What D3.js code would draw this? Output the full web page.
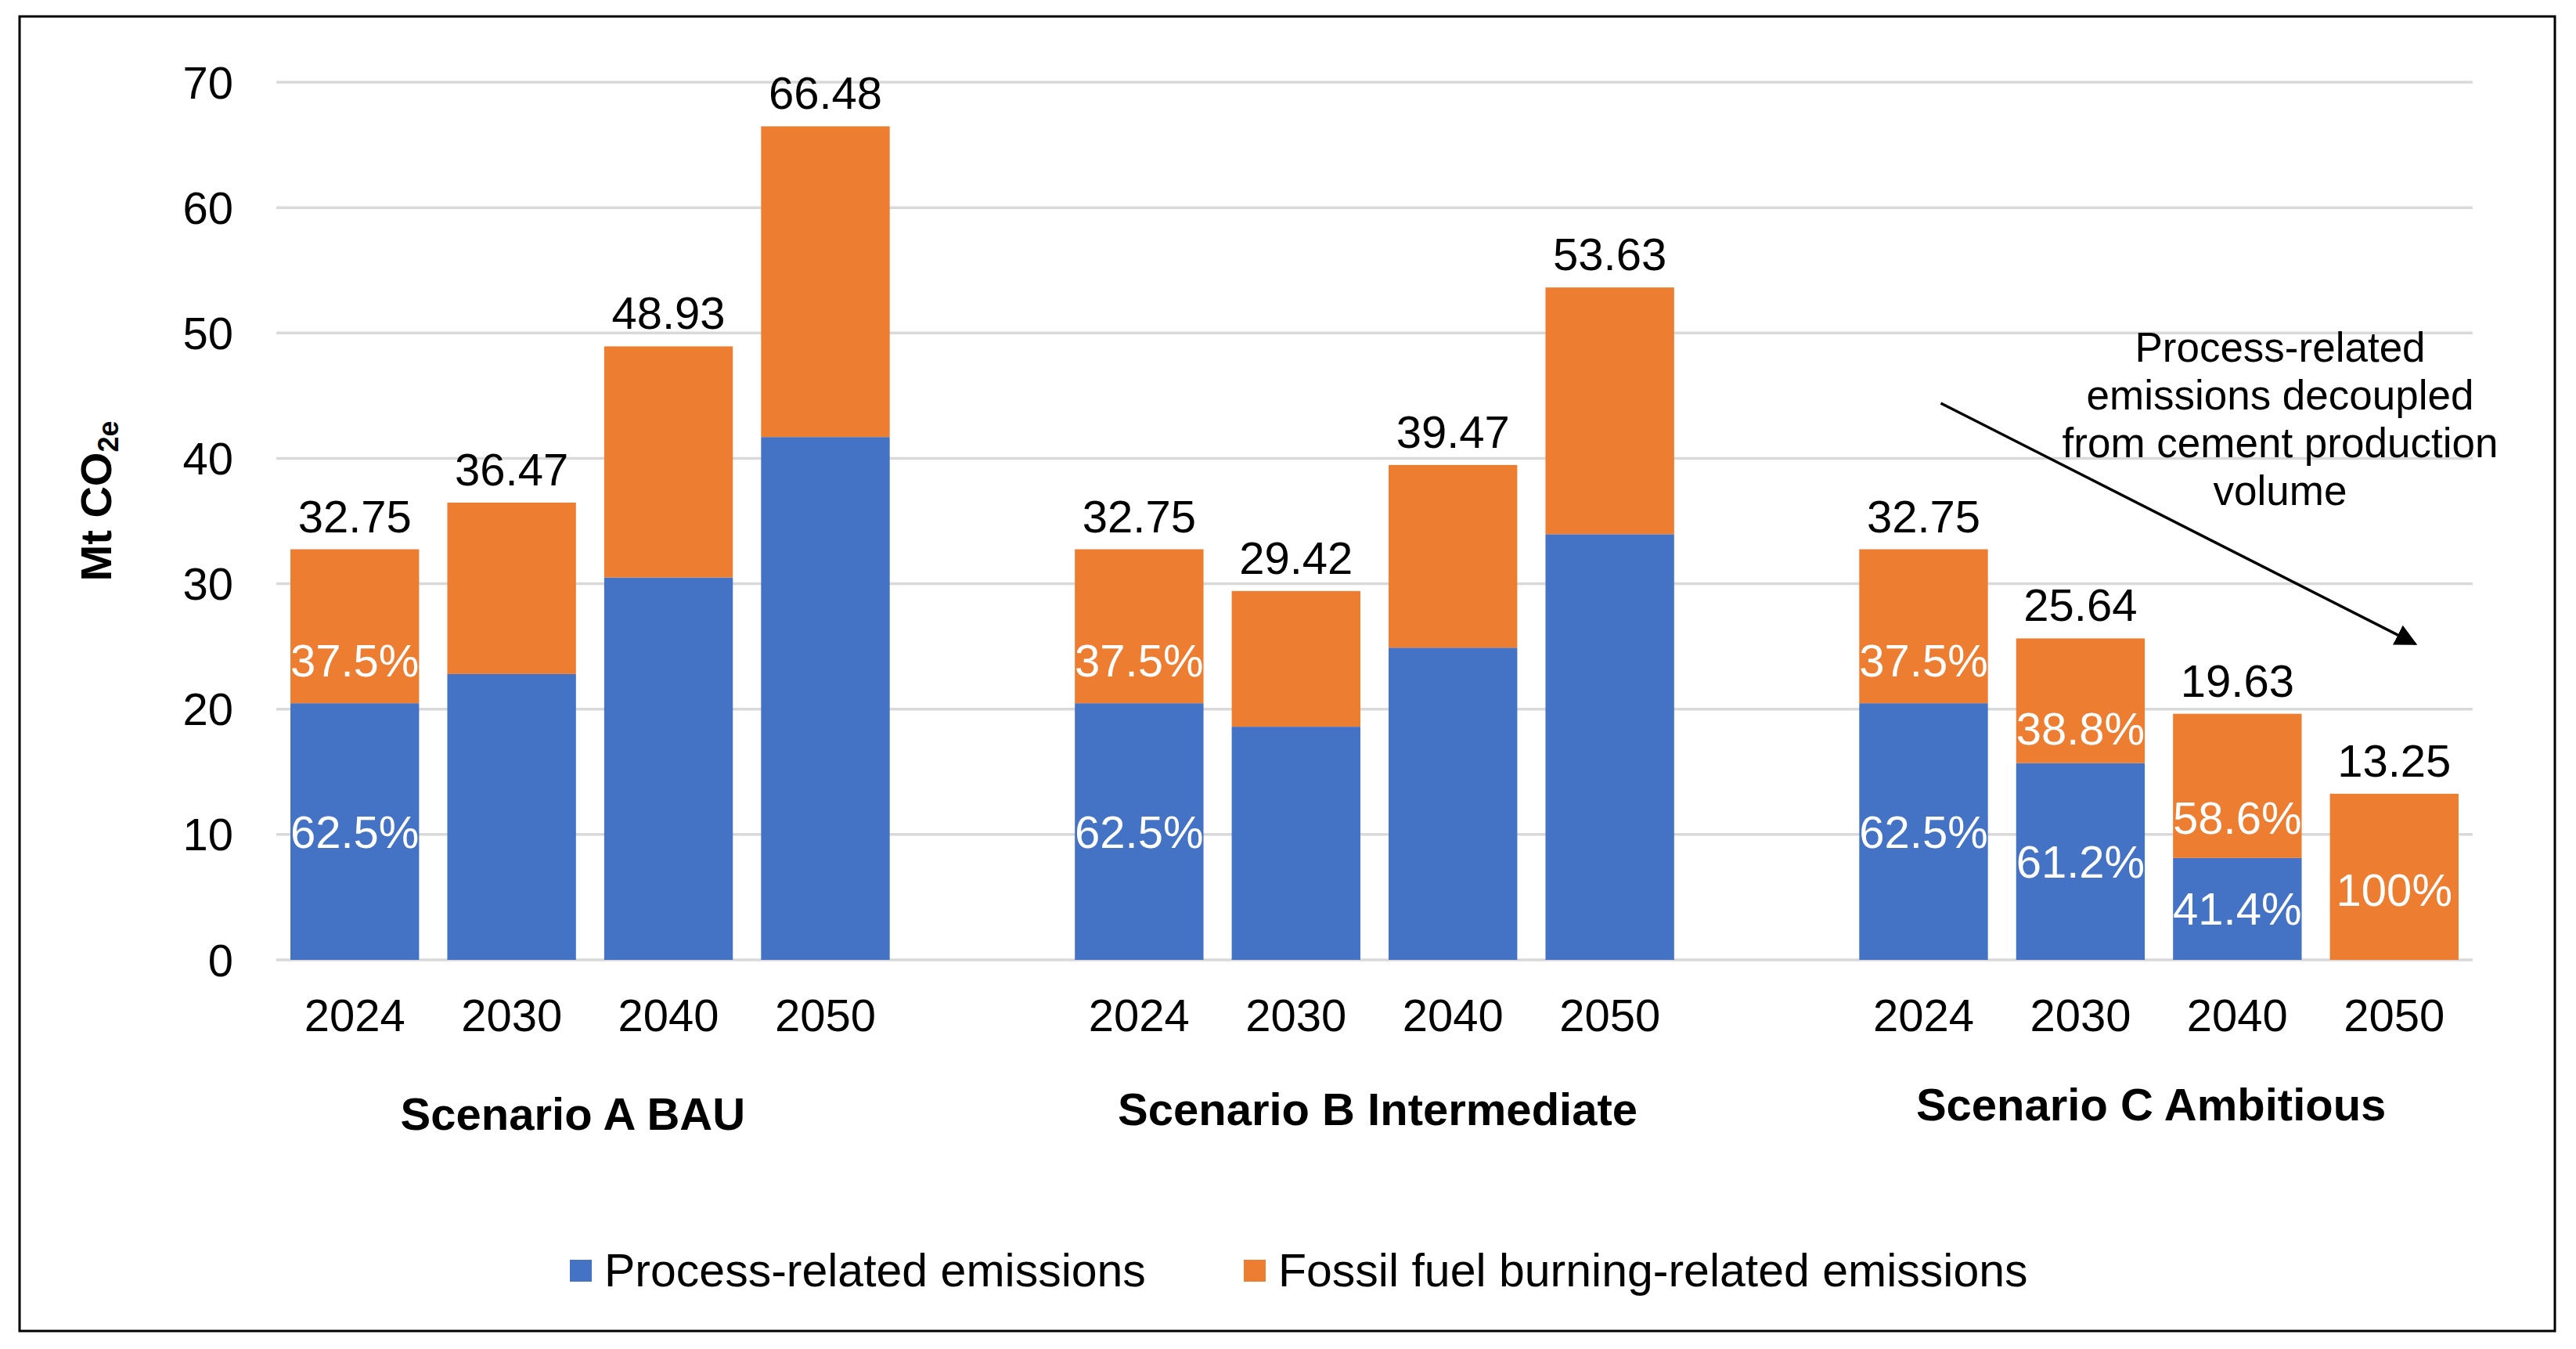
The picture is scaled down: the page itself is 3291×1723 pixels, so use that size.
<!DOCTYPE html>
<html>
<head>
<meta charset="utf-8">
<script src="https://cdn.jsdelivr.net/npm/d3@7"></script>
<style>
  html, body { margin: 0; padding: 0; background: #fff; }
  text { font-family: "Liberation Sans", Arial, sans-serif; }
</style>
</head>
<body>
<script>
// chart data
var scenarios = ["Scenario A BAU", "Scenario B Intermediate", "Scenario C Ambitious"];
var years = ["2024", "2030", "2040", "2050"];
var totals = [
  [32.75, 36.47, 48.93, 66.48],
  [32.75, 29.42, 39.47, 53.63],
  [32.75, 25.64, 19.63, 13.25]
];
var processVals = [
  [20.47, 22.8, 30.5, 41.7],
  [20.47, 18.6, 24.9, 33.95],
  [20.47, 15.69, 8.13, 0]
];
var processPct = [
  ["62.5%", "", "", ""],
  ["62.5%", "", "", ""],
  ["62.5%", "61.2%", "41.4%", ""]
];
var fossilPct = [
  ["37.5%", "", "", ""],
  ["37.5%", "", "", ""],
  ["37.5%", "38.8%", "58.6%", "100%"]
];
var yTicks = [0, 10, 20, 30, 40, 50, 60, 70];
var seriesNames = ["Process-related emissions", "Fossil fuel burning-related emissions"];
var seriesColors = ["#4472C4", "#ED7D31"];
var noteLines = ["Process-related", "emissions decoupled", "from cement production", "volume"];

var W = 3291, H = 1723;
var plot = {left: 353, right: 3159, top: 105, bottom: 1226};
var fs = 58;

var svg = d3.select("body").append("svg")
            .attr("width", W).attr("height", H);

// outer frame
svg.append("rect").attr("x", 25).attr("y", 21)
   .attr("width", 3239).attr("height", 1679)
   .style("fill", "#fff").style("stroke", "#000").style("stroke-width", 3);

// slots: 4 years per scenario with an empty slot between groups
var slots = [];
scenarios.forEach(function(s, i){
  if (i > 0) slots.push("gap" + i);
  years.forEach(function(yr){ slots.push(i + "-" + yr); });
});

var x = d3.scaleBand().domain(slots).range([plot.left, plot.right]).padding(0);
var y = d3.scaleLinear().domain([0, 70]).range([plot.bottom, plot.top]);
var barW = x.bandwidth() * 0.82;

// gridlines
svg.append("g").selectAll("line").data(yTicks).enter().append("line")
   .attr("x1", plot.left).attr("x2", plot.right)
   .attr("y1", function(d){ return y(d); }).attr("y2", function(d){ return y(d); })
   .style("stroke", "#D9D9D9").style("stroke-width", 3.5);

// y tick labels
svg.append("g").selectAll("text").data(yTicks).enter().append("text")
   .attr("x", plot.left - 55).attr("y", function(d){ return y(d); })
   .attr("text-anchor", "end").attr("dominant-baseline", "central")
   .style("font-size", fs + "px").style("fill", "#000")
   .text(function(d){ return d; });

// y axis title
var yt = svg.append("text")
   .attr("transform", "translate(142," + 640 + ") rotate(-90)")
   .attr("text-anchor", "middle")
   .style("font-size", "56px").style("font-weight", "bold");
yt.append("tspan").text("Mt CO");
yt.append("tspan").attr("dy", 9).style("font-size", "36px").text("2e");

// flatten to bar records
var bars = [];
scenarios.forEach(function(s, i){
  years.forEach(function(yr, j){
    bars.push({key: i + "-" + yr, year: yr, total: totals[i][j],
               proc: processVals[i][j], fossil: totals[i][j] - processVals[i][j],
               pPct: processPct[i][j], fPct: fossilPct[i][j]});
  });
});

var cx = function(d){ return x(d.key) + x.bandwidth() / 2; };

// blue segments
svg.append("g").selectAll("rect").data(bars).enter().append("rect")
   .attr("x", function(d){ return cx(d) - barW / 2; })
   .attr("width", barW)
   .attr("y", function(d){ return y(d.proc); })
   .attr("height", function(d){ return y(0) - y(d.proc); })
   .style("fill", seriesColors[0]);

// orange segments
svg.append("g").selectAll("rect").data(bars).enter().append("rect")
   .attr("x", function(d){ return cx(d) - barW / 2; })
   .attr("width", barW)
   .attr("y", function(d){ return y(d.total); })
   .attr("height", function(d){ return y(d.proc) - y(d.total); })
   .style("fill", seriesColors[1]);

// total labels
svg.append("g").selectAll("text").data(bars).enter().append("text")
   .attr("x", cx).attr("y", function(d){ return y(d.total) - 22; })
   .attr("text-anchor", "middle")
   .style("font-size", fs + "px").style("fill", "#000")
   .text(function(d){ return d.total.toFixed(2); });

// percent labels (white)
svg.append("g").selectAll("text").data(bars.filter(function(d){ return d.pPct; })).enter().append("text")
   .attr("x", cx).attr("y", function(d){ return y(d.proc * 0.5); })
   .attr("text-anchor", "middle").attr("dominant-baseline", "central")
   .style("font-size", fs + "px").style("fill", "#fff")
   .text(function(d){ return d.pPct; });

svg.append("g").selectAll("text").data(bars.filter(function(d){ return d.fPct; })).enter().append("text")
   .attr("x", cx)
   .attr("y", function(d){
     var frac = d.proc > 0 ? 0.28 : 0.42;
     return y(d.proc + d.fossil * frac);
   })
   .attr("text-anchor", "middle").attr("dominant-baseline", "central")
   .style("font-size", fs + "px").style("fill", "#fff")
   .text(function(d){ return d.fPct; });

// year labels
svg.append("g").selectAll("text").data(bars).enter().append("text")
   .attr("x", cx).attr("y", plot.bottom + 70)
   .attr("text-anchor", "middle").attr("dominant-baseline", "central")
   .style("font-size", fs + "px").style("fill", "#000")
   .text(function(d){ return d.year; });

// scenario labels
var groupShift = [-22, 4, -10];
svg.append("g").selectAll("text").data(scenarios).enter().append("text")
   .attr("x", function(d, i){
     return (x(i + "-" + years[0]) + x(i + "-" + years[3]) + x.bandwidth()) / 2 + groupShift[i];
   })
   .attr("y", function(d, i){ return plot.bottom + 196 - i * 6; })
   .attr("text-anchor", "middle").attr("dominant-baseline", "central")
   .style("font-size", "58px").style("font-weight", "bold").style("fill", "#000")
   .text(function(d){ return d; });

// legend
var legY = 1623;
var lg = svg.append("g");
var legX = [728, 1589];
seriesNames.forEach(function(n, i){
  lg.append("rect").attr("x", legX[i]).attr("y", legY - 14)
    .attr("width", 28).attr("height", 28).style("fill", seriesColors[i]);
  lg.append("text").attr("x", legX[i] + 44).attr("y", legY)
    .attr("dominant-baseline", "central")
    .style("font-size", "59px").style("fill", "#000").text(n);
});

// annotation arrow
svg.append("defs").append("marker")
   .attr("id", "arr").attr("viewBox", "0 0 10 10")
   .attr("refX", 9).attr("refY", 5)
   .attr("markerWidth", 8).attr("markerHeight", 8)
   .attr("orient", "auto-start-reverse")
   .append("path").attr("d", "M0,0 L10,5 L0,10 Z").style("fill", "#000");

var xa1 = x("2-2024") + x.bandwidth() / 2 + 22;
var xa2 = x("2-2050") + x.bandwidth() / 2 + 27;
svg.append("line")
   .attr("x1", xa1).attr("y1", y(44.4))
   .attr("x2", xa2).attr("y2", y(25.2))
   .style("stroke", "#000").style("stroke-width", 3.5)
   .attr("marker-end", "url(#arr)");

svg.append("g").selectAll("text").data(noteLines).enter().append("text")
   .attr("x", 2913).attr("y", function(d, i){ return 443 + i * 61; })
   .attr("text-anchor", "middle").attr("dominant-baseline", "central")
   .style("font-size", "53px").style("fill", "#000")
   .text(function(d){ return d; });
</script>
</body>
</html>
